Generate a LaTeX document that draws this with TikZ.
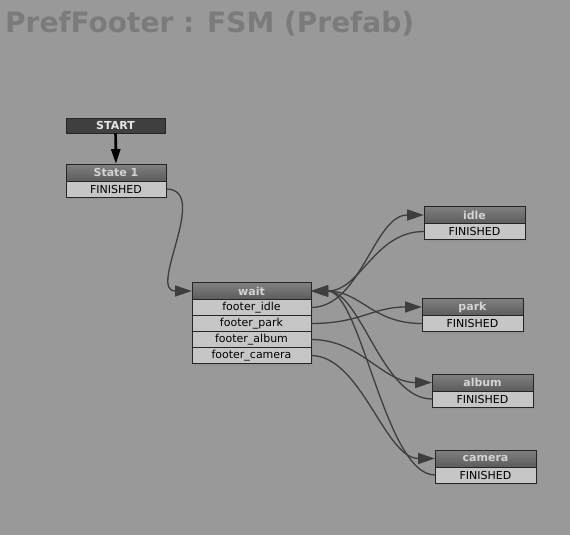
\documentclass[tikz,border=0pt]{standalone}
\usepackage{fontspec}
\setmainfont{DejaVu Sans}
\usepackage{tikz}
\usetikzlibrary{arrows.meta, positioning, shadows}

\definecolor{bggray}{HTML}{999999}
\definecolor{titlegray}{HTML}{7B7B7B}
\definecolor{hdtop}{HTML}{808080}
\definecolor{hdbot}{HTML}{5C5C5C}
\definecolor{hdtext}{HTML}{D4D4D4}
\definecolor{rowgray}{HTML}{C6C6C6}
\definecolor{edgegray}{HTML}{252525}
\definecolor{wiregray}{HTML}{3E3E3E}

\begin{document}
\begin{tikzpicture}[x=1pt, y=-1pt,
    title/.style={font=\bfseries\fontsize{28}{30}\selectfont, text=titlegray, inner sep=0pt},
    head/.style={draw=edgegray, line width=1pt, top color=hdtop, bottom color=hdbot, minimum width=#1, minimum height=17pt, inner sep=0pt, outer sep=0pt, text=hdtext, font=\bfseries\fontsize{11}{12}\selectfont, drop shadow={opacity=0.2, shadow xshift=1.5pt, shadow yshift=-2pt}},
    row/.style={draw=edgegray, line width=1pt, fill=rowgray, minimum width=#1, minimum height=16pt, inner sep=0pt, outer sep=0pt, font=\fontsize{11}{12}\selectfont, drop shadow={opacity=0.2, shadow xshift=1.5pt, shadow yshift=-2pt}},
    startbox/.style={draw=edgegray, line width=1pt, fill=black!75, text=white!90!black, minimum width=99pt, minimum height=15pt, inner sep=0pt, outer sep=0pt, font=\bfseries\fontsize{11}{12}\selectfont},
    startarr/.style={-{Triangle[length=15pt, width=9pt]}, line width=2.7pt, black},
    wire/.style={-{Triangle[length=17pt, width=11pt]}, line width=1.3pt, wiregray}
]
    \fill[bggray] (0,0) rectangle (570,535);
    \useasboundingbox (0,0) rectangle (570,535);

    % Title
    \node[title, anchor=base west] (title) at (5,33) {PrefFooter : FSM (Prefab)};

    % Start and first state
    \node[startbox] (start) at (115.5,125.5) {START};
    \node[head=100pt] (s1) at (116,172.5) {State 1};
    \node[row=100pt, below=0pt of s1] (s1fin) {FINISHED};

    % wait state with its events
    \node[head=119pt] (wait) at (251.5,291) {wait};
    \node[row=119pt, below=0pt of wait]     (wtidle)   {footer\_idle};
    \node[row=119pt, below=0pt of wtidle]   (wtpark)   {footer\_park};
    \node[row=119pt, below=0pt of wtpark]   (wtalbum)  {footer\_album};
    \node[row=119pt, below=0pt of wtalbum]  (wtcamera) {footer\_camera};

    % Target states
    \node[head=101pt] (idle)   at (474.5,215)   {idle};
    \node[row=101pt, below=0pt of idle]   (idlefin)   {FINISHED};
    \node[head=101pt] (park)   at (472.5,307)   {park};
    \node[row=101pt, below=0pt of park]   (parkfin)   {FINISHED};
    \node[head=101pt] (album)  at (482.5,382.5) {album};
    \node[row=101pt, below=0pt of album]  (albumfin)  {FINISHED};
    \node[head=101pt] (camera) at (485.5,458.5) {camera};
    \node[row=101pt, below=0pt of camera] (camerafin) {FINISHED};

    % Transitions
    \draw[startarr] (start) -- (s1);
    \draw[wire] (s1fin.east) .. controls +(45,0) and +(-45,0) .. (wait.west);

    \draw[wire] (wtidle.east)   .. controls +(50,0) and +(-50,0) .. (idle.west);
    \draw[wire] (wtpark.east)   .. controls +(50,0) and +(-50,0) .. (park.west);
    \draw[wire] (wtalbum.east)  .. controls +(50,0) and +(-50,0) .. (album.west);
    \draw[wire] (wtcamera.east) .. controls +(50,0) and +(-50,0) .. (camera.west);

    % Back to wait
    \draw[wire] (idlefin.west)   .. controls +(-50,0) and +(50,0) .. (wait.east);
    \draw[wire] (parkfin.west)   .. controls +(-50,0) and +(50,0) .. (wait.east);
    \draw[wire] (albumfin.west)  .. controls +(-50,0) and +(50,0) .. (wait.east);
    \draw[wire] (camerafin.west) .. controls +(-50,0) and +(50,0) .. (wait.east);
\end{tikzpicture}
\end{document}
